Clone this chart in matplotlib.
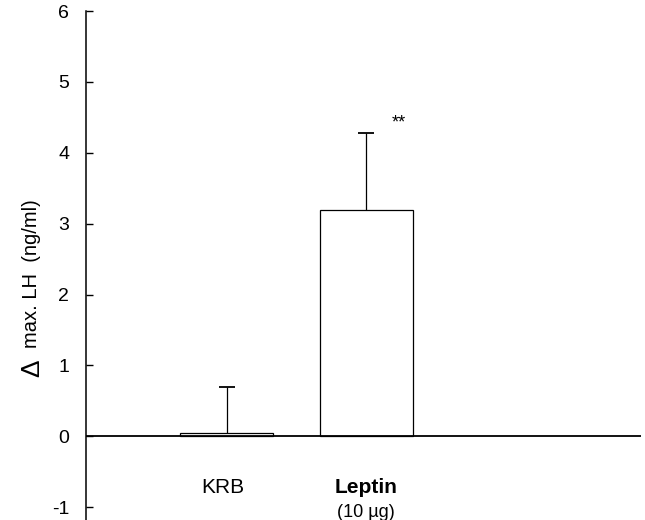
import numpy as np
import matplotlib
matplotlib.use("Agg")
import matplotlib.pyplot as plt

plt.rcParams['font.family'] = ['Liberation Sans', 'DejaVu Sans']

# data
groups = ["KRB", "Leptin"]
sublabels = ["", "(10 \u00b5g)"]
means = [0.05, 3.20]
sem = [0.65, 1.08]
signif = ["", "**"]
yticks = [-1, 0, 1, 2, 3, 4, 5, 6]

x = np.arange(1, len(groups) + 1)
tops = np.array(means) + np.array(sem)

fig = plt.figure(figsize=(6.45, 5.2), dpi=100)
ax = fig.add_axes([0.1333, 0.0, 0.8605, 0.9788])

ax.bar(x, means, width=0.665, color="white", edgecolor="black", linewidth=0.9, zorder=2)
# one-sided error bars (upper only), cap just at the top
ax.vlines(x, means, tops, color="black", linewidth=0.9, zorder=1)
ax.plot(x, tops, linestyle="none", marker="_", markersize=11, markeredgewidth=1.3,
        color="black")
ax.axhline(0, color="black", linewidth=1.3, zorder=3)

for xi, t, star in zip(x, tops, signif):
    if star:
        ax.text(xi + 0.23, t + 0.14, star, ha="center", va="center", fontsize=13)

# category labels under the axis
for xi, g, sub in zip(x, groups, sublabels):
    bold = "bold" if sub else "normal"
    ax.text(xi - (0.03 if not sub else 0), -0.72, g, ha="center", va="center",
            fontsize=15, fontweight=bold)
    if sub:
        ax.text(xi, -1.07, sub, ha="center", va="center", fontsize=13)

ax.set_xlim(-0.01, 3.97)
ax.set_ylim(-1.18, 6)
ax.set_yticks(yticks)
ax.set_yticklabels([str(t) for t in yticks], fontsize=14)
ax.tick_params(axis="y", direction="in", length=5, width=1, pad=12)
ax.set_xticks([])

for side in ["top", "right", "bottom"]:
    ax.spines[side].set_visible(False)
ax.spines["left"].set_linewidth(1.1)

# y label with a larger delta
fig.text(32 / 645, 1 - 368 / 520, "\u0394", rotation=90, ha="center", va="center", fontsize=19)
fig.text(32 / 645, 1 - 274 / 520, "max. LH  (ng/ml)", rotation=90, ha="center", va="center",
         fontsize=14.5)

fig.savefig("out.png", dpi=100)
